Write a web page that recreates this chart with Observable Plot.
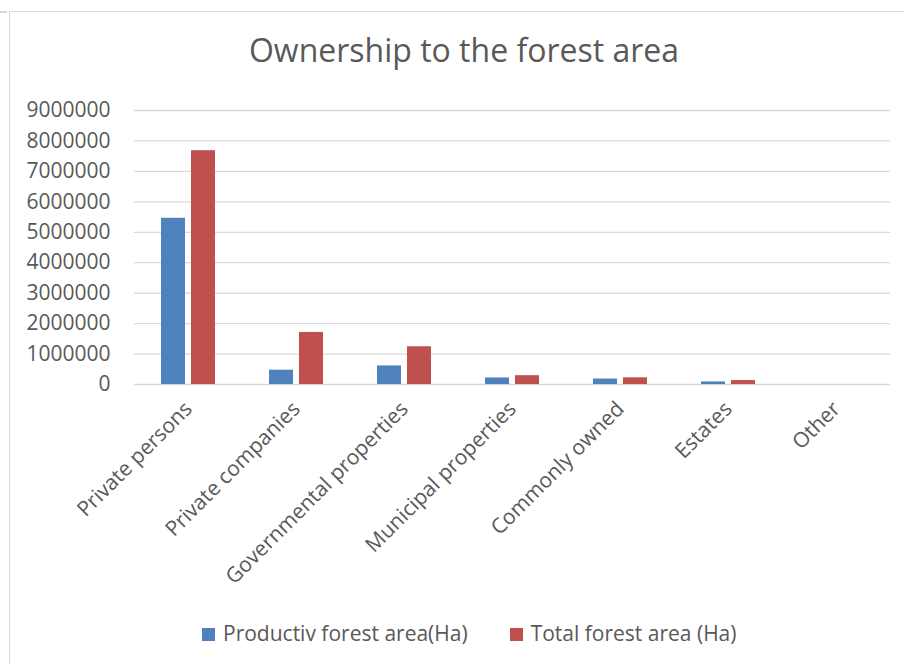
<!DOCTYPE html>
<html>
<head>
<meta charset="utf-8">
<script src="https://cdn.jsdelivr.net/npm/d3@7"></script>
<script src="https://cdn.jsdelivr.net/npm/@observablehq/plot@0.6"></script>
<style>
  html, body { margin: 0; padding: 0; background: #fff; }
  #wrap { position: relative; width: 904px; height: 664px; overflow: hidden; font-family: "Open Sans", sans-serif; color: #595959; }
  #box { position: absolute; left: 9px; top: 11px; width: 1000px; height: 1000px; border-left: 1.5px solid #d9d9d9; border-top: 1.5px solid #d9d9d9; }
  #stub { position: absolute; left: 0; top: 11px; width: 7px; height: 1.5px; background: #d9d9d9; }
  #title { position: absolute; left: 0; top: 33.5px; width: 928px; text-align: center; font-size: 32px; line-height: 1; white-space: nowrap; }
  #chart { position: absolute; left: 0; top: 90px; }
  #legend { position: absolute; left: 202px; top: 623.4px; display: flex; align-items: flex-start; font-size: 21px; line-height: 1; white-space: nowrap; }
  .item { display: flex; align-items: flex-start; }
  .sw { width: 13px; height: 13px; margin-top: 5px; margin-right: 8px; }
</style>
</head>
<body>
<div id="wrap">
  <div id="box"></div>
  <div id="stub"></div>
  <div id="title">Ownership to the forest area</div>
  <div id="chart"></div>
  <div id="legend"></div>
</div>
<script>
const categories = ["Private persons", "Private companies", "Governmental properties", "Municipal properties", "Commonly owned", "Estates", "Other"];
const seriesNames = ["Productiv forest area(Ha)", "Total forest area (Ha)"];
const seriesColors = ["#4f81bd", "#c0504d"];
const productive = [5460000, 470000, 610000, 215000, 180000, 85000, 0];
const total = [7680000, 1710000, 1240000, 290000, 220000, 130000, 0];
const yTicks = [0, 1000000, 2000000, 3000000, 4000000, 5000000, 6000000, 7000000, 8000000, 9000000];

const rows = [];
categories.forEach((c, i) => {
  rows.push({category: c, series: seriesNames[0], value: productive[i]});
  rows.push({category: c, series: seriesNames[1], value: total[i]});
});

const chart = Plot.plot({
  width: 904,
  height: 520,
  marginTop: 20,
  marginBottom: 226,
  marginLeft: 134,
  marginRight: 14,
  style: {fontFamily: "Open Sans", color: "#595959", background: "transparent", overflow: "visible"},
  fx: {domain: categories, padding: 0, label: null, axis: null},
  x: {domain: seriesNames, paddingInner: 0.213, paddingOuter: 0.877, axis: null},
  y: {domain: [0, 9000000], axis: null},
  color: {domain: seriesNames, range: seriesColors},
  marks: [
    Plot.gridY(yTicks, {stroke: "#d9d9d9", strokeOpacity: 1, strokeWidth: 1.3}),
    Plot.axisY(yTicks, {tickFormat: d3.format("d"), tickSize: 0, tickPadding: 24, fontSize: 21, fill: "#595959", label: null}),
    Plot.barY(rows, {fx: "category", x: "series", y: "value", fill: "series"}),
    Plot.text(categories, {fx: d => d, text: d => d, frameAnchor: "bottom", rotate: -45, textAnchor: "end", lineAnchor: "middle", dx: 0, dy: 21, fontSize: 21, fill: "#595959"})
  ]
});
document.getElementById("chart").appendChild(chart);

const legend = document.getElementById("legend");
seriesNames.forEach((name, i) => {
  const item = document.createElement("div");
  item.className = "item";
  if (i > 0) item.style.marginLeft = "42px";
  const sw = document.createElement("div");
  sw.className = "sw";
  sw.style.background = seriesColors[i];
  const label = document.createElement("span");
  label.textContent = name;
  item.appendChild(sw);
  item.appendChild(label);
  legend.appendChild(item);
});
</script>
</body>
</html>
